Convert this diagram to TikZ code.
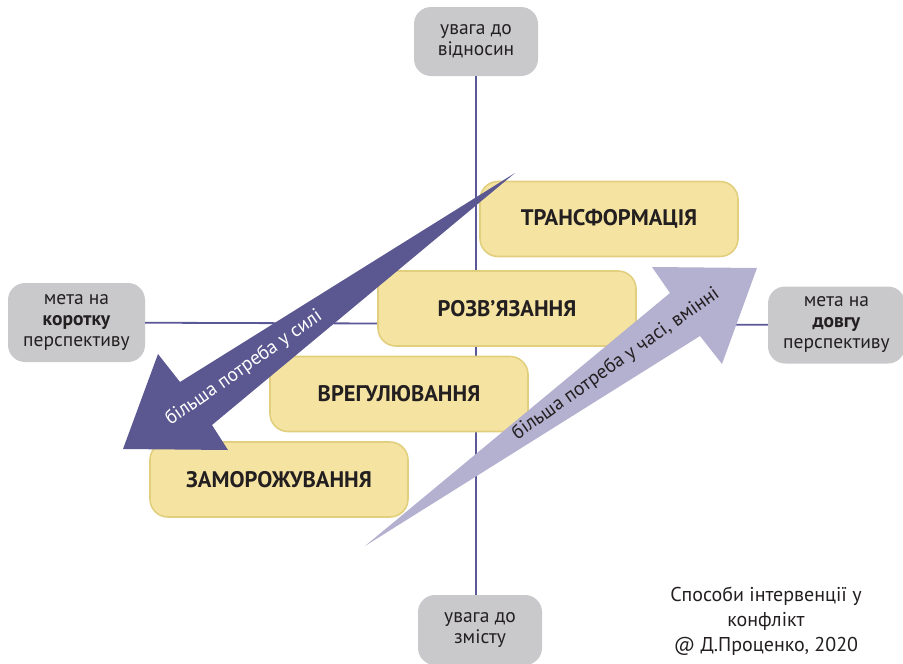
\documentclass[tikz,border=0pt]{standalone}
\usepackage{fontspec}
\setmainfont{PT Sans}
\usetikzlibrary{positioning}
\definecolor{axisblue}{HTML}{5A5896}
\definecolor{darkarrow}{HTML}{5B5891}
\definecolor{lightarrow}{HTML}{B4B0CF}
\definecolor{boxgray}{HTML}{C9C9CB}
\definecolor{boxyellow}{HTML}{F5E4A1}
\definecolor{boxedge}{HTML}{E2CF7D}
\definecolor{ink}{HTML}{231F20}

\begin{document}
\begin{tikzpicture}[x=1pt,y=-1pt,
	goal/.style={fill=boxgray,rounded corners=17pt,align=center,text=ink,
		font=\fontsize{19.5}{21}\selectfont,inner sep=0pt},
	way/.style={fill=boxyellow,draw=boxedge,line width=1.6pt,rounded corners=18pt,
		minimum width=258pt,minimum height=75pt,text=ink,
		font=\fontsize{22.5}{24}\selectfont\bfseries},
	axis/.style={axisblue,line width=1.8pt}]
	\useasboundingbox (0,0) rectangle (903,664);
	\node[goal,minimum width=124pt,minimum height=69pt] (rel) at (476,41.5) {увага до\\відносин};
	\node[goal,minimum width=124pt,minimum height=70pt] (cont) at (480,630) {увага до\\змісту};
	\node[goal,minimum width=137pt,minimum height=79pt] (short) at (76.5,322.5) {мета на\\\textbf{коротку}\\перспективу};
	\node[goal,minimum width=137pt,minimum height=77pt] (long) at (836.5,325) {мета на\\\textbf{довгу}\\перспективу};
	\draw[axis] (rel) -- (rel|-cont.north);
	\draw[axis] (short) -- (long);
	\node[way] (transf) at (609,219) {ТРАНСФОРМАЦІЯ};
	\node[way] (resol) at (507,308.5) {РОЗВ’ЯЗАННЯ};
	\node[way] (regul) at (399,394) {ВРЕГУЛЮВАННЯ};
	\node[way] (freeze) at (279,479.5) {ЗАМОРОЖУВАННЯ};
	\fill[darkarrow] (515,173) -- (180,382) -- (158,354) -- (123,449)
		-- (228,450) -- (212,425) -- cycle;
	\fill[lightarrow] (365,546) -- (670,293) -- (652,267) -- (757,268)
		-- (722,364) -- (700,336) -- cycle;
	\node[white,rotate=35.2,font=\fontsize{19.5}{21}\selectfont] (force) at (244,368) {більша потреба у силі};
	\node[ink,rotate=35.3,font=\fontsize{19.5}{21}\selectfont] (time) at (616,364) {більша потреба у часі, вмінні};
	\node[ink,align=center,font=\fontsize{20}{25}\selectfont] (note) at (766,621) {Способи інтервенції у\\конфлікт\\@ Д.Проценко, 2020};
\end{tikzpicture}
\end{document}
